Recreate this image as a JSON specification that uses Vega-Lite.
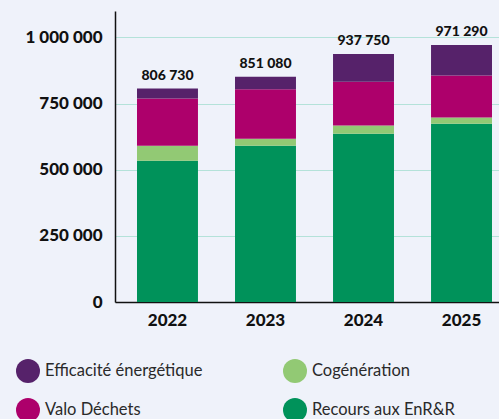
{
  "$schema": "https://vega.github.io/schema/vega-lite/v6.json",
  "autosize": {"type": "none"},
  "padding": {"left": 115, "top": 11, "right": 0, "bottom": 117},
  "width": 399,
  "height": 291,
  "background": "#eff2fa",
  "config": {
    "view": {"stroke": null},
    "font": "Lato",
    "locale": {"number": {"decimal": ",", "thousands": " ", "grouping": [3], "currency": ["", " €"]}}
  },
  "data": {"values": [
    {"annee": "2022", "categorie": "Recours aux EnR&R", "ordre": 1, "valeur": 534000},
    {"annee": "2022", "categorie": "Cogénération", "ordre": 2, "valeur": 57000},
    {"annee": "2022", "categorie": "Valo Déchets", "ordre": 3, "valeur": 178000},
    {"annee": "2022", "categorie": "Efficacité énergétique", "ordre": 4, "valeur": 37730},
    {"annee": "2023", "categorie": "Recours aux EnR&R", "ordre": 1, "valeur": 591000},
    {"annee": "2023", "categorie": "Cogénération", "ordre": 2, "valeur": 26000},
    {"annee": "2023", "categorie": "Valo Déchets", "ordre": 3, "valeur": 187000},
    {"annee": "2023", "categorie": "Efficacité énergétique", "ordre": 4, "valeur": 47080},
    {"annee": "2024", "categorie": "Recours aux EnR&R", "ordre": 1, "valeur": 636000},
    {"annee": "2024", "categorie": "Cogénération", "ordre": 2, "valeur": 31000},
    {"annee": "2024", "categorie": "Valo Déchets", "ordre": 3, "valeur": 166000},
    {"annee": "2024", "categorie": "Efficacité énergétique", "ordre": 4, "valeur": 104750},
    {"annee": "2025", "categorie": "Recours aux EnR&R", "ordre": 1, "valeur": 674000},
    {"annee": "2025", "categorie": "Cogénération", "ordre": 2, "valeur": 23000},
    {"annee": "2025", "categorie": "Valo Déchets", "ordre": 3, "valeur": 159000},
    {"annee": "2025", "categorie": "Efficacité énergétique", "ordre": 4, "valeur": 115290}
  ]},
  "encoding": {
    "x": {
      "field": "annee", "type": "nominal", "title": null,
      "scale": {"paddingInner": 0.378, "paddingOuter": 0.2245},
      "axis": {
        "labelAngle": 0, "labelFont": "Lato", "labelFontSize": 17, "labelFontWeight": 900,
        "labelColor": "#111111", "labelPadding": 10, "ticks": false,
        "domainColor": "#111111", "domainWidth": 1.5
      }
    }
  },
  "layer": [
    {
      "mark": {"type": "bar"},
      "encoding": {
        "y": {
          "aggregate": "sum", "field": "valeur", "type": "quantitative", "title": null,
          "scale": {"domain": [0, 1100000], "nice": false},
          "axis": {
            "values": [0, 250000, 500000, 750000, 1000000], "format": ",d",
            "labelFont": "Lato", "labelFontSize": 17, "labelFontWeight": 900, "labelColor": "#111111",
            "labelPadding": 13, "ticks": false, "domainColor": "#111111", "domainWidth": 1.5,
            "gridColor": "#b4e2d9", "gridWidth": 1
          }
        },
        "color": {
          "field": "categorie", "type": "nominal", "title": null,
          "scale": {
            "domain": ["Efficacité énergétique", "Cogénération", "Valo Déchets", "Recours aux EnR&R"],
            "range": ["#56226a", "#92c974", "#ad006b", "#00925a"]
          },
          "legend": {
            "orient": "none", "legendX": -99, "legendY": 348, "columns": 2, "direction": "horizontal",
            "symbolType": "circle", "symbolSize": 576, "symbolStrokeWidth": 0, "symbolOpacity": 1,
            "labelFont": "Lato", "labelFontSize": 16.5, "labelColor": "#2a2a2a", "labelOffset": 5,
            "rowPadding": 15, "columnPadding": 80, "padding": 0, "labelLimit": 300
          }
        },
        "order": {"field": "ordre", "type": "quantitative"}
      }
    },
    {
      "mark": {"type": "text", "baseline": "bottom", "dy": -6, "font": "Lato", "fontSize": 14, "fontWeight": 900, "color": "#111111"},
      "encoding": {
        "y": {"aggregate": "sum", "field": "valeur", "type": "quantitative"},
        "text": {"aggregate": "sum", "field": "valeur", "type": "quantitative", "format": ",d"}
      }
    }
  ]
}
